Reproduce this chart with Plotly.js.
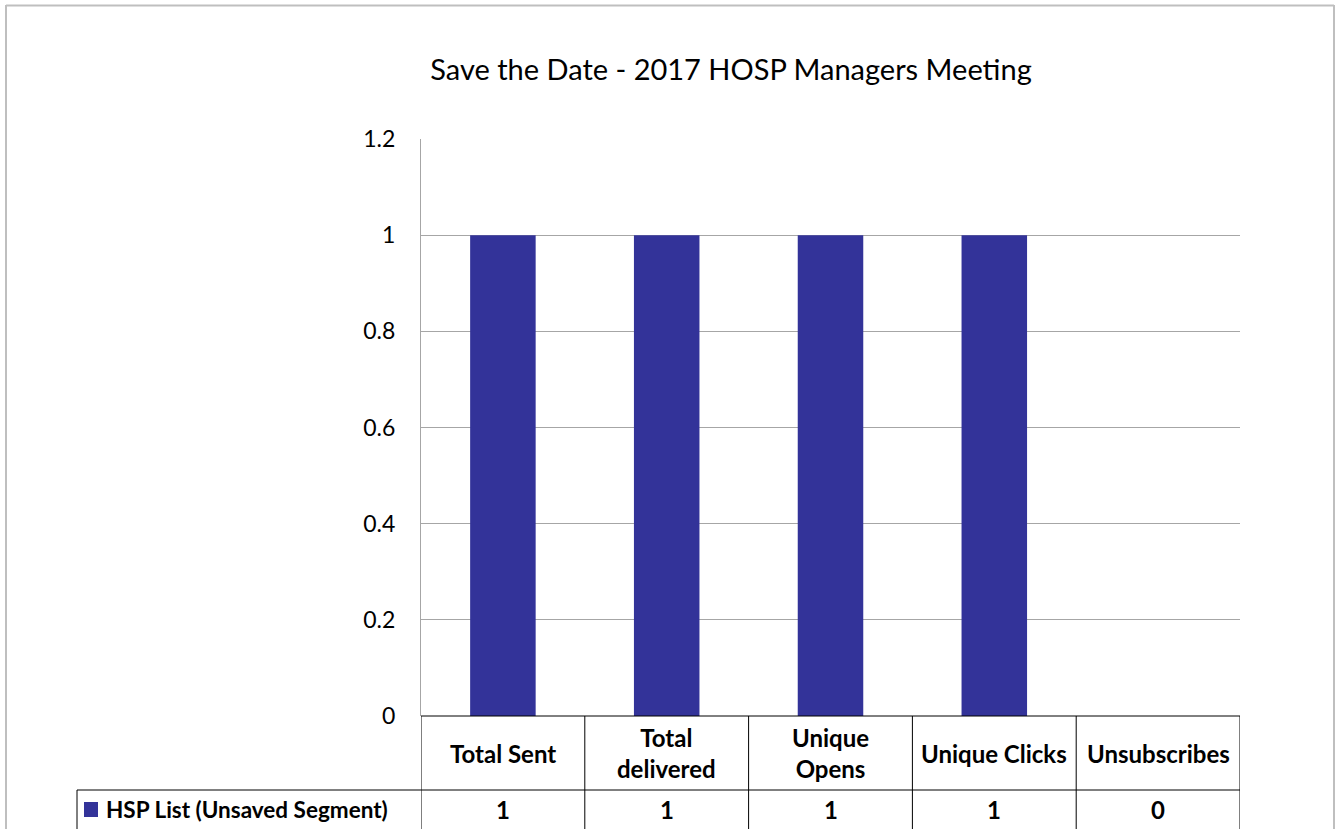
<!DOCTYPE html>
<html>
<head>
<meta charset="utf-8">
<script src="https://cdn.plot.ly/plotly-3.0.1.min.js"></script>
<style>html,body{margin:0;padding:0;background:#fff;}#chart{width:1335px;height:829px;}</style>
</head>
<body>
<div id="chart"></div>
<script>
var chartTitle = "Save the Date - 2017 HOSP Managers Meeting";
var categories = ["Total Sent", "Total delivered", "Unique Opens", "Unique Clicks", "Unsubscribes"];
var headerLabels = ["Total Sent", "Total<br>delivered", "Unique<br>Opens", "Unique Clicks", "Unsubscribes"];
var seriesName = "HSP List (Unsaved Segment)";
var seriesValues = [1, 1, 1, 1, 0];
var yTicks = [0, 0.2, 0.4, 0.6, 0.8, 1, 1.2];

var W = 1335, H = 829;
var L = 421, R = 1240, T = 139, B = 716;
var pw = R - L, ph = B - T;
function px(x) { return (x - L) / pw; }
function py(y) { return (B - y) / ph; }

var FONT = "Lato, 'Open Sans', sans-serif";
var barColor = "#333399";
var lineColor = "#000000";

var shapes = [];
var annotations = [];

// outer chart border
shapes.push({type: "line", xref: "paper", yref: "paper", x0: px(6), x1: px(1334), y0: py(5.5), y1: py(5.5), line: {color: "#bfbfbf", width: 2}});
shapes.push({type: "line", xref: "paper", yref: "paper", x0: px(6), x1: px(6), y0: py(5), y1: py(840), line: {color: "#bfbfbf", width: 2}});
shapes.push({type: "line", xref: "paper", yref: "paper", x0: px(1334), x1: px(1334), y0: py(5), y1: py(840), line: {color: "#bfbfbf", width: 2}});

// data table grid
var rowLine = py(790), tableBottom = py(840);
shapes.push({type: "line", xref: "paper", yref: "paper", x0: 0, x1: 1, y0: 0, y1: 0, line: {color: lineColor, width: 1}});
shapes.push({type: "line", xref: "paper", yref: "paper", x0: px(77), x1: 1, y0: rowLine, y1: rowLine, line: {color: lineColor, width: 1}});
shapes.push({type: "line", xref: "paper", yref: "paper", x0: px(77), x1: px(77), y0: rowLine, y1: tableBottom, line: {color: lineColor, width: 1}});
for (var i = 0; i <= categories.length; i++) {
  shapes.push({type: "line", xref: "x", yref: "paper", x0: i - 0.5, x1: i - 0.5, y0: 0, y1: tableBottom, line: {color: lineColor, width: 1}});
}
// legend key
shapes.push({type: "rect", xref: "paper", yref: "paper", x0: px(84), x1: px(98), y0: py(802), y1: py(817), fillcolor: barColor, line: {width: 0}});
annotations.push({xref: "paper", yref: "paper", x: px(104), y: py(809.5), xanchor: "left", yanchor: "middle", showarrow: false,
  text: "<b>" + seriesName + "</b>", font: {family: FONT, size: 22.5, color: "#000"}});

for (var j = 0; j < categories.length; j++) {
  annotations.push({xref: "x", yref: "paper", x: j, y: py(753), xanchor: "center", yanchor: "middle", showarrow: false,
    text: "<b>" + headerLabels[j] + "</b>", font: {family: FONT, size: 24, color: "#000"}});
  annotations.push({xref: "x", yref: "paper", x: j, y: py(809.5), xanchor: "center", yanchor: "middle", showarrow: false,
    text: "<b>" + seriesValues[j] + "</b>", font: {family: FONT, size: 24, color: "#000"}});
}

var trace = {
  type: "bar",
  x: categories,
  y: seriesValues,
  name: seriesName,
  marker: {color: barColor},
  width: 0.4,
  hoverinfo: "x+y"
};

var layout = {
  width: W, height: H,
  margin: {l: L, r: W - R, t: T, b: H - B, pad: 0},
  paper_bgcolor: "#fff", plot_bgcolor: "#fff",
  showlegend: false,
  title: {text: chartTitle, font: {family: FONT, size: 29, color: "#000"}, xref: "container", yref: "container", x: 731 / W, xanchor: "center", y: 1 - 70 / H, yanchor: "middle"},
  font: {family: FONT, color: "#000"},
  xaxis: {type: "category", range: [-0.5, categories.length - 0.5], showticklabels: false, showgrid: false, zeroline: false, showline: false, ticks: ""},
  yaxis: {range: [0, 1.2], tickvals: yTicks, ticktext: yTicks.map(String), showgrid: true, gridcolor: "#a6a6a6", gridwidth: 1, zeroline: false,
    showline: true, linecolor: "#a6a6a6", linewidth: 1, ticks: "", ticklabelstandoff: 20, tickfont: {family: FONT, size: 23, color: "#000"}},
  shapes: shapes,
  annotations: annotations
};

Plotly.newPlot("chart", [trace], layout, {displayModeBar: false, staticPlot: true});
</script>
</body>
</html>
